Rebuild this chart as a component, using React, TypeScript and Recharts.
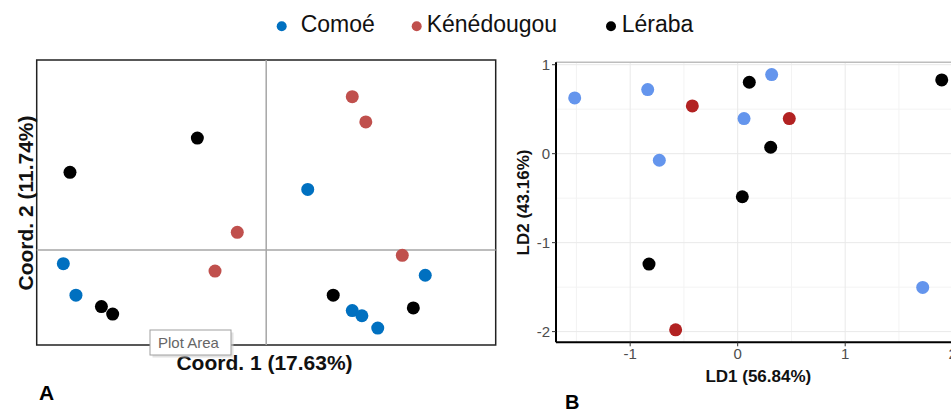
import React from "react";
import {
  ScatterChart,
  Scatter,
  XAxis,
  YAxis,
  CartesianGrid,
  ReferenceLine,
  ReferenceArea,
} from "recharts";

// ---------- Panel A (PCoA) ----------
const pcoaComoe = [
  { x: 0.181, y: 0.319 },
  { x: -0.884, y: -0.072 },
  { x: -0.829, y: -0.238 },
  { x: 0.693, y: -0.133 },
  { x: 0.375, y: -0.319 },
  { x: 0.417, y: -0.346 },
  { x: 0.486, y: -0.411 },
];
const pcoaKenedougou = [
  { x: 0.375, y: 0.807 },
  { x: 0.434, y: 0.674 },
  { x: -0.126, y: 0.093 },
  { x: -0.223, y: -0.111 },
  { x: 0.593, y: -0.028 },
];
const pcoaLeraba = [
  { x: -0.855, y: 0.409 },
  { x: -0.3, y: 0.589 },
  { x: -0.718, y: -0.298 },
  { x: -0.669, y: -0.337 },
  { x: 0.292, y: -0.238 },
  { x: 0.641, y: -0.305 },
];

// ---------- Panel B (LDA) ----------
const ldaComoe = [
  { x: -1.516, y: 0.627 },
  { x: -0.837, y: 0.72 },
  { x: -0.729, y: -0.074 },
  { x: 0.059, y: 0.394 },
  { x: 0.316, y: 0.889 },
  { x: 1.721, y: -1.503 },
];
const ldaKenedougou = [
  { x: -0.422, y: 0.537 },
  { x: 0.48, y: 0.394 },
  { x: -0.577, y: -1.98 },
];
const ldaLeraba = [
  { x: 0.108, y: 0.803 },
  { x: 1.898, y: 0.829 },
  { x: 0.307, y: 0.072 },
  { x: 0.043, y: -0.484 },
  { x: -0.825, y: -1.241 },
];

const ldaXTicks = [-1, 0, 1, 2];
const ldaYTicks = [-2, -1, 0, 1];
const ldaXMinor = [-1.5, -0.5, 0.5, 1.5];
const ldaYMinor = [-1.5, -0.5, 0.5];

const legendItems = [
  { name: "Comoé", color: "#0070C0" },
  { name: "Kénédougou", color: "#C0504D" },
  { name: "Léraba", color: "#000000" },
];

const FONT = "'Liberation Sans', Arial, sans-serif";

const dot = (color: string, r: number) => (props: any) =>
  <circle cx={props.cx} cy={props.cy} r={r} fill={color} />;

export default function App() {
  return (
    <div
      style={{
        position: "absolute",
        left: 0,
        top: 0,
        width: 951,
        height: 412,
        overflow: "hidden",
        background: "#fff",
        fontFamily: FONT,
      }}
    >
      {/* Panel A */}
      <div style={{ position: "absolute", left: 0, top: 0 }}>
        <ScatterChart
          width={500}
          height={412}
          margin={{ top: 60, left: 36.7, right: 4.3, bottom: 67 }}
        >
          <XAxis type="number" dataKey="x" domain={[-1, 1]} hide />
          <YAxis type="number" dataKey="y" domain={[-0.5, 1]} hide />
          <ReferenceLine x={0} stroke="#a6a6a6" strokeWidth={1.5} />
          <ReferenceLine y={0} stroke="#a6a6a6" strokeWidth={1.5} />
          <ReferenceArea
            x1={-1}
            x2={1}
            y1={-0.5}
            y2={1}
            fill="none"
            fillOpacity={0}
            stroke="#222"
            strokeWidth={1.5}
          />
          <Scatter data={pcoaComoe} isAnimationActive={false} shape={dot("#0070C0", 6.5)} />
          <Scatter data={pcoaKenedougou} isAnimationActive={false} shape={dot("#C0504D", 6.5)} />
          <Scatter data={pcoaLeraba} isAnimationActive={false} shape={dot("#000000", 6.5)} />
        </ScatterChart>
      </div>

      {/* Panel B */}
      <div style={{ position: "absolute", left: 480, top: 0 }}>
        <ScatterChart
          width={500}
          height={412}
          margin={{ top: 62.3, left: 36, right: 27.3, bottom: 39.7 }}
        >
          <CartesianGrid
            stroke="#f3f3f3"
            strokeWidth={1}
            horizontalValues={ldaYMinor}
            verticalValues={ldaXMinor}
          />
          <CartesianGrid
            stroke="#e9e9e9"
            strokeWidth={1}
            horizontalValues={ldaYTicks}
            verticalValues={ldaXTicks}
          />
          <XAxis
            type="number"
            dataKey="x"
            domain={[-1.69, 2.0]}
            ticks={ldaXTicks}
            height={30}
            tickSize={4}
            tickMargin={2}
            axisLine={{ stroke: "#000", strokeWidth: 2 }}
            tickLine={{ stroke: "#333" }}
            tick={{ fill: "#4d4d4d", fontSize: 15, fontFamily: FONT }}
            allowDataOverflow
          />
          <YAxis
            type="number"
            dataKey="y"
            domain={[-2.12, 1.027]}
            ticks={ldaYTicks}
            width={40}
            tickSize={4}
            tickMargin={2}
            axisLine={{ stroke: "#000", strokeWidth: 2 }}
            tickLine={{ stroke: "#333" }}
            tick={{ fill: "#4d4d4d", fontSize: 15, fontFamily: FONT }}
            allowDataOverflow
          />
          <ReferenceLine y={1.027} stroke="#bdbdbd" strokeWidth={1.5} />
          <Scatter data={ldaComoe} isAnimationActive={false} shape={dot("#6495ED", 6.5)} />
          <Scatter data={ldaKenedougou} isAnimationActive={false} shape={dot("#B22222", 6.5)} />
          <Scatter data={ldaLeraba} isAnimationActive={false} shape={dot("#000000", 6.5)} />
        </ScatterChart>
      </div>

      {/* Annotations */}
      <svg
        width={951}
        height={412}
        style={{ position: "absolute", left: 0, top: 0, pointerEvents: "none" }}
        fontFamily={FONT}
      >
        {/* legend */}
        <circle cx={281.7} cy={26.3} r={5} fill={legendItems[0].color} />
        <text x={300.7} y={31.7} fontSize={23} fill="#111">{legendItems[0].name}</text>
        <circle cx={416.7} cy={26.3} r={5} fill={legendItems[1].color} />
        <text x={426.7} y={31.7} fontSize={23} fill="#111">{legendItems[1].name}</text>
        <circle cx={611} cy={26.3} r={5} fill={legendItems[2].color} />
        <text x={621.7} y={31.7} fontSize={23} fill="#111">{legendItems[2].name}</text>

        {/* panel A titles */}
        <text x={264.5} y={370} fontSize={21} fontWeight="bold" textAnchor="middle" fill="#111">
          Coord. 1 (17.63%)
        </text>
        <text
          transform="translate(32.5,203) rotate(-90)"
          fontSize={21}
          fontWeight="bold"
          textAnchor="middle"
          fill="#111"
        >
          Coord. 2 (11.74%)
        </text>
        <text x={39} y={400} fontSize={21} fontWeight="bold" fill="#000">A</text>

        {/* Plot Area tooltip */}
        <rect x={152.5} y={332.5} width={81} height={25} fill="#d0d0d0" opacity={0.6} />
        <rect x={150} y={330} width={81} height={25} fill="#fff" stroke="#a0a0a0" strokeWidth={1} />
        <text x={158} y={348} fontSize={15} fill="#666">Plot Area</text>

        {/* panel B titles */}
        <text x={758.3} y={381.5} fontSize={17} fontWeight="bold" textAnchor="middle" fill="#111">
          LD1 (56.84%)
        </text>
        <text
          transform="translate(529,202.5) rotate(-90)"
          fontSize={17}
          fontWeight="bold"
          textAnchor="middle"
          fill="#111"
        >
          LD2 (43.16%)
        </text>
        <text x={565} y={409} fontSize={20} fontWeight="bold" fill="#000">B</text>
      </svg>
    </div>
  );
}
